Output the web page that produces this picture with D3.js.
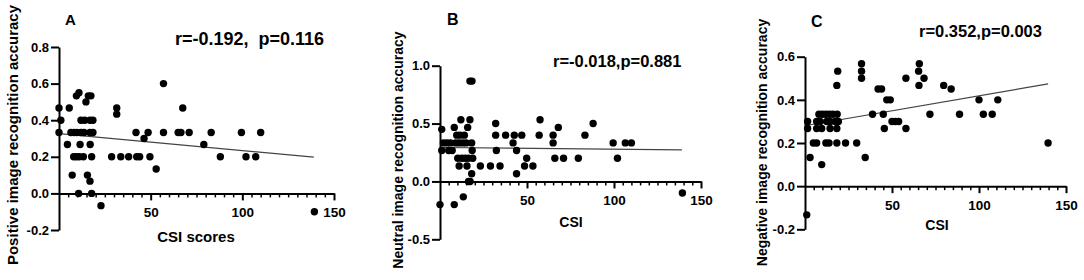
<!DOCTYPE html>
<html>
<head>
<meta charset="utf-8">
<script src="https://cdn.jsdelivr.net/npm/d3@7"></script>
<style>
	body { margin: 0; background: #fff; }
	svg { display: block; font-family: Arial, "Liberation Sans", sans-serif; font-weight: bold; }
	.axis path, .axis line { stroke: #000; stroke-width: 2; }
	.minor line { stroke: #000; stroke-width: 1.5; }
	.axis text { fill: #000; font-weight: bold; font-family: Arial, "Liberation Sans", sans-serif; }
</style>
</head>
<body>
<svg width="1084" height="280"></svg>
<script>
// values, [CSI, accuracy]
var pointsA = [
	[57, 0.6],
	[9.5, 0.533], [10.9, 0.55], [16, 0.533], [17.4, 0.533], [14.7, 0.5],
	[0, 0.467], [5.6, 0.467], [31.5, 0.467], [67.5, 0.467], [31.5, 0.433],
	[1, 0.4], [12, 0.4], [14, 0.4], [16.9, 0.4], [18.5, 0.4],
	[0, 0.333], [6.5, 0.333], [8.2, 0.333], [9.8, 0.333], [12, 0.333], [13.6, 0.333], [16.9, 0.333], [18.5, 0.333],
	[42, 0.333], [48.6, 0.333], [57, 0.333], [65, 0.333], [66.5, 0.333], [71, 0.333], [83, 0.333], [99.5, 0.333], [110, 0.333],
	[46.4, 0.3],
	[4.6, 0.267], [11.5, 0.267], [17, 0.267], [79, 0.267],
	[8, 0.2], [9.5, 0.2], [11, 0.2], [13.3, 0.2], [17.8, 0.2], [28.7, 0.2], [33.7, 0.2], [38, 0.2], [42.4, 0.2], [44, 0.2],
	[49.6, 0.2], [88, 0.2], [102, 0.2], [107.3, 0.2],
	[53, 0.133], [7.2, 0.1], [15.5, 0.1], [16.9, 0.067],
	[10.7, 0], [17.8, 0], [22.9, -0.067], [139.3, -0.1]
];
var pointsB = [
	[1, 0.45], [17.2, 0.867], [18.4, 0.867],
	[12, 0.533], [17.2, 0.533], [57.5, 0.533], [32, 0.5], [88, 0.5],
	[8.2, 0.467], [15.9, 0.467], [68, 0.467],
	[9.6, 0.4], [11.5, 0.4], [14, 0.4], [32, 0.4], [37.7, 0.4], [42.7, 0.4], [47, 0.4], [57, 0.4], [65, 0.4], [83.3, 0.4],
	[2, 0.333], [4, 0.333], [6, 0.333], [9, 0.333], [11, 0.333], [13, 0.333], [15, 0.333], [18.2, 0.333],
	[42, 0.333], [65, 0.333], [99.5, 0.333], [106.5, 0.333], [110, 0.333],
	[1, 0.267], [5, 0.267], [7, 0.267], [18.5, 0.267], [32.4, 0.267], [44, 0.267],
	[10.2, 0.2], [12.5, 0.2], [14.4, 0.2], [16.3, 0.2], [18.8, 0.2], [49.8, 0.2], [66, 0.2], [71, 0.2], [79.5, 0.2], [102, 0.2],
	[11, 0.133], [15.5, 0.133], [23.2, 0.133], [29, 0.133], [34.5, 0.133], [48.6, 0.133], [53.4, 0.133],
	[18.2, 0.067], [44, 0.067], [16.4, 0], [17.3, 0],
	[0, -0.2], [8.2, -0.2], [13.4, -0.133], [139.3, -0.1]
];
var pointsC = [
	[1.5, 0.3], [1.5, 0.267], [2.9, 0.133], [9.6, 0.1],
	[4.8, 0.2], [6.7, 0.2], [12, 0.2], [13.8, 0.2], [18.3, 0.2], [23.3, 0.2], [29.7, 0.2], [139.7, 0.2],
	[34.6, 0.133],
	[8, 0.333], [10, 0.333], [12, 0.333], [14, 0.333], [16, 0.333], [18.5, 0.333],
	[38.8, 0.333], [45, 0.333], [71.8, 0.333], [88.8, 0.333], [102.5, 0.333], [107.6, 0.333],
	[6.7, 0.3], [8.7, 0.3], [12.5, 0.3], [14.4, 0.3], [17.3, 0.3], [19.2, 0.3], [50, 0.3], [52, 0.3], [53.8, 0.3],
	[6.7, 0.267], [9.6, 0.267], [14.4, 0.267], [18.3, 0.267], [45.6, 0.267], [58, 0.267],
	[18.3, 0.467], [18.8, 0.533],
	[32.5, 0.567], [32.5, 0.533], [32.5, 0.5],
	[42, 0.45], [44, 0.45], [47, 0.4], [49, 0.4], [58, 0.5],
	[65.7, 0.567], [65.3, 0.533], [65.5, 0.467], [68.4, 0.5],
	[79.7, 0.467], [84, 0.45], [100, 0.4], [110.8, 0.4],
	[1, -0.133]
];

// fitted lines, start and end
var fitA = [[0, 0.327], [139, 0.198]];
var fitB = [[0, 0.293], [139, 0.273]];
var fitC = [[0, 0.28], [139.7, 0.474]];

var xTicks = [50, 100, 150];
var ticksA = [-0.2, 0, 0.2, 0.4, 0.6, 0.8];
var ticksB = [-0.5, 0, 0.5, 1.0];
var ticksC = [-0.2, 0, 0.2, 0.4, 0.6];

var panels = [
	{ key: "A", stat: "r=-0.192,  p=0.116", xLabel: "CSI scores", yLabel: "Positive image recognition accuracy",
	  points: pointsA, fit: fitA, yTicks: ticksA,
	  xr: [59, 334], yr: [230, 47], keyAt: [65, 25, 15], statAt: [175, 45, 18],
	  xLabAt: [196, 242, 15], yLabAt: [18, 135, 15] },
	{ key: "B", stat: "r=-0.018,p=0.881", xLabel: "CSI", yLabel: "Neutral image recognition accuracy",
	  points: pointsB, fit: fitB, yTicks: ticksB,
	  xr: [440, 701], yr: [239.3, 65.7], keyAt: [447, 25, 16], statAt: [553, 67, 16.5],
	  xLabAt: [571, 227, 14], yLabAt: [403, 150, 14] },
	{ key: "C", stat: "r=0.352,p=0.003", xLabel: "CSI", yLabel: "Negative image recognition accuracy",
	  points: pointsC, fit: fitC, yTicks: ticksC,
	  xr: [805, 1066], yr: [229.3, 56.7], keyAt: [811, 27, 16], statAt: [919, 37, 16.5],
	  xLabAt: [937, 230, 14], yLabAt: [767, 142.5, 14] }
];

var svg = d3.select("svg");
var minor = d3.range(5, 150, 5).filter(d => d % 50 != 0);

panels.forEach(p => {
	var x = d3.scaleLinear().domain([0, 150]).range(p.xr);
	var y = d3.scaleLinear().domain(d3.extent(p.yTicks)).range(p.yr);
	var g = svg.append("g");

	g.append("g")
		.attr("class", "axis minor")
		.attr("transform", "translate(0," + y(0) + ")")
		.call(d3.axisBottom(x).tickValues(minor).tickSize(4).tickFormat(""))
		.call(a => a.select(".domain").remove());

	g.append("g")
		.attr("class", "axis")
		.attr("transform", "translate(0," + y(0) + ")")
		.call(d3.axisBottom(x).tickValues(xTicks).tickSize(7).tickSizeOuter(0).tickPadding(7))
		.call(a => a.selectAll("text").attr("font-size", 13.5));

	g.append("g")
		.attr("class", "axis")
		.attr("transform", "translate(" + x(0) + ",0)")
		.call(d3.axisLeft(y).tickValues(p.yTicks).tickSize(8).tickSizeOuter(0).tickPadding(2)
			.tickFormat(d => d.toFixed(1)))
		.call(a => a.selectAll("text").attr("font-size", 13));

	g.append("line")
		.attr("x1", x(p.fit[0][0])).attr("y1", y(p.fit[0][1]))
		.attr("x2", x(p.fit[1][0])).attr("y2", y(p.fit[1][1]))
		.attr("stroke", "#444")
		.attr("stroke-width", 1.2);

	g.selectAll("circle")
		.data(p.points)
		.enter()
		.append("circle")
		.attr("cx", d => x(d[0]))
		.attr("cy", d => y(d[1]))
		.attr("r", 3.7)
		.attr("fill", "#000");

	g.append("text")
		.attr("x", p.keyAt[0]).attr("y", p.keyAt[1])
		.attr("font-size", p.keyAt[2])
		.text(p.key);

	g.append("text")
		.attr("x", p.statAt[0]).attr("y", p.statAt[1])
		.attr("font-size", p.statAt[2])
		.style("white-space", "pre")
		.text(p.stat);

	g.append("text")
		.attr("x", p.xLabAt[0]).attr("y", p.xLabAt[1])
		.attr("font-size", p.xLabAt[2])
		.attr("text-anchor", "middle")
		.text(p.xLabel);

	g.append("text")
		.attr("transform", "translate(" + p.yLabAt[0] + "," + p.yLabAt[1] + ") rotate(-90)")
		.attr("font-size", p.yLabAt[2])
		.attr("text-anchor", "middle")
		.text(p.yLabel);
});
</script>
</body>
</html>
